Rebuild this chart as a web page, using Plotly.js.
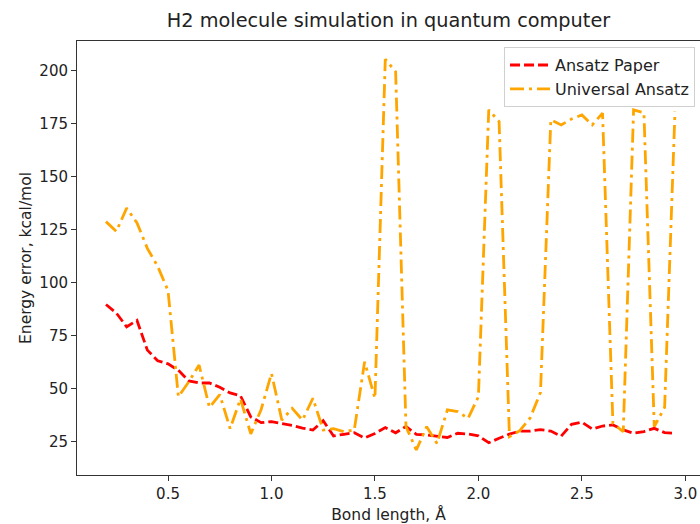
<!DOCTYPE html>
<html>
<head>
<meta charset="utf-8">
<script src="https://cdn.plot.ly/plotly-3.0.1.min.js"></script>
<style>html,body{margin:0;padding:0;background:#fff;}#chart{width:700px;height:524px;}</style>
</head>
<body>
<div id="chart"></div>
<script>
const bondLength = [0.20,0.25,0.30,0.35,0.40,0.45,0.50,0.55,0.60,0.65,0.70,0.75,0.80,0.85,0.90,0.95,1.00,1.05,1.10,1.15,1.20,1.25,1.30,1.35,1.40,1.45,1.50,1.55,1.60,1.65,1.70,1.75,1.80,1.85,1.90,1.95,2.00,2.05,2.10,2.15,2.20,2.25,2.30,2.35,2.40,2.45,2.50,2.55,2.60,2.65,2.70,2.75,2.80,2.85,2.90,2.95];
const ansatzPaper = [89.5,85.5,79,82,68,63,61.5,58.5,53.5,52.5,52.5,50.5,47.8,46.5,36.5,33.8,34.3,33.5,32.5,31.2,30.3,34.7,27.5,28.3,29,26.6,28.7,31.5,29,32,28.3,28,27.5,26.8,28.8,28.4,27.6,24.3,26.4,28.4,29.8,29.8,30.5,29.8,27.4,33,34,30.8,32.2,32.7,30.4,28.8,29.6,31.1,29.1,28.8];
const universalAnsatz = [128.6,124,135,128,116,107.5,96,46,53,61,41,47,31,45,28.5,40,57,35,40.5,35,45.3,30.3,31,29.5,30.3,62.5,45.3,205.2,199.3,31.9,20.9,31.9,24,39.8,39,35.8,46,181.3,175.8,27.2,30,36,48,176.6,174.2,177,178.9,174.2,179.8,33.5,29.5,181.3,180,31.9,41,180.5];
const seriesNames = ["Ansatz Paper","Universal Ansatz"];
const titleText = "H2 molecule simulation in quantum computer";
const xLabel = "Bond length, Å";
const yLabel = "Energy error, kcal/mol";
const xTicks = [0.5,1.0,1.5,2.0,2.5,3.0];
const yTicks = [25,50,75,100,125,150,175,200];

const font = "DejaVu Sans, Verdana, sans-serif";
const traces = [
  {x: bondLength, y: ansatzPaper, name: seriesNames[0], mode: "lines",
   line: {color: "#ff0000", width: 2.8, dash: "10px,4px"}},
  {x: bondLength, y: universalAnsatz, name: seriesNames[1], mode: "lines",
   line: {color: "#ffa500", width: 2.8, dash: "14px,5px,3px,5px"}}
];
const layout = {
  width: 700, height: 524,
  margin: {l: 77, r: 0, t: 41, b: 49, pad: 0},
  paper_bgcolor: "#fff", plot_bgcolor: "#fff",
  font: {family: font, size: 15.5, color: "#222"},
  title: {text: titleText, font: {family: font, size: 19.3, color: "#222"}, x: 0.5, xref: "paper", xanchor: "center", y: 0.962, yref: "container", yanchor: "middle"},
  showlegend: true,
  legend: {x: 0.992, y: 0.986, xanchor: "right", yanchor: "top", bgcolor: "rgba(255,255,255,0.8)", bordercolor: "#d0d0d0", borderwidth: 1, font: {family: font, size: 16, color: "#222"}, tracegroupgap: 0, itemwidth: 40},
  xaxis: {range: [0.06, 3.071], tickvals: xTicks, ticktext: xTicks.map(v => v.toFixed(1)),
    showgrid: false, zeroline: false, showline: true, linecolor: "#333", linewidth: 1, mirror: true,
    ticks: "outside", ticklen: 5, tickwidth: 1, tickcolor: "#333",
    tickfont: {family: font, size: 15, color: "#222"},
    title: {text: xLabel, font: {family: font, size: 15.5, color: "#222"}, standoff: 7}},
  yaxis: {range: [9.1, 213.8], tickvals: yTicks, ticktext: yTicks.map(String),
    showgrid: false, zeroline: false, showline: true, linecolor: "#333", linewidth: 1, mirror: false,
    ticks: "outside", ticklen: 5, tickwidth: 1, tickcolor: "#333",
    tickfont: {family: font, size: 15, color: "#222"},
    title: {text: yLabel, font: {family: font, size: 15.5, color: "#222"}, standoff: 3}}
};
Plotly.newPlot("chart", traces, layout, {staticPlot: true, displayModeBar: false});
</script>
</body>
</html>
